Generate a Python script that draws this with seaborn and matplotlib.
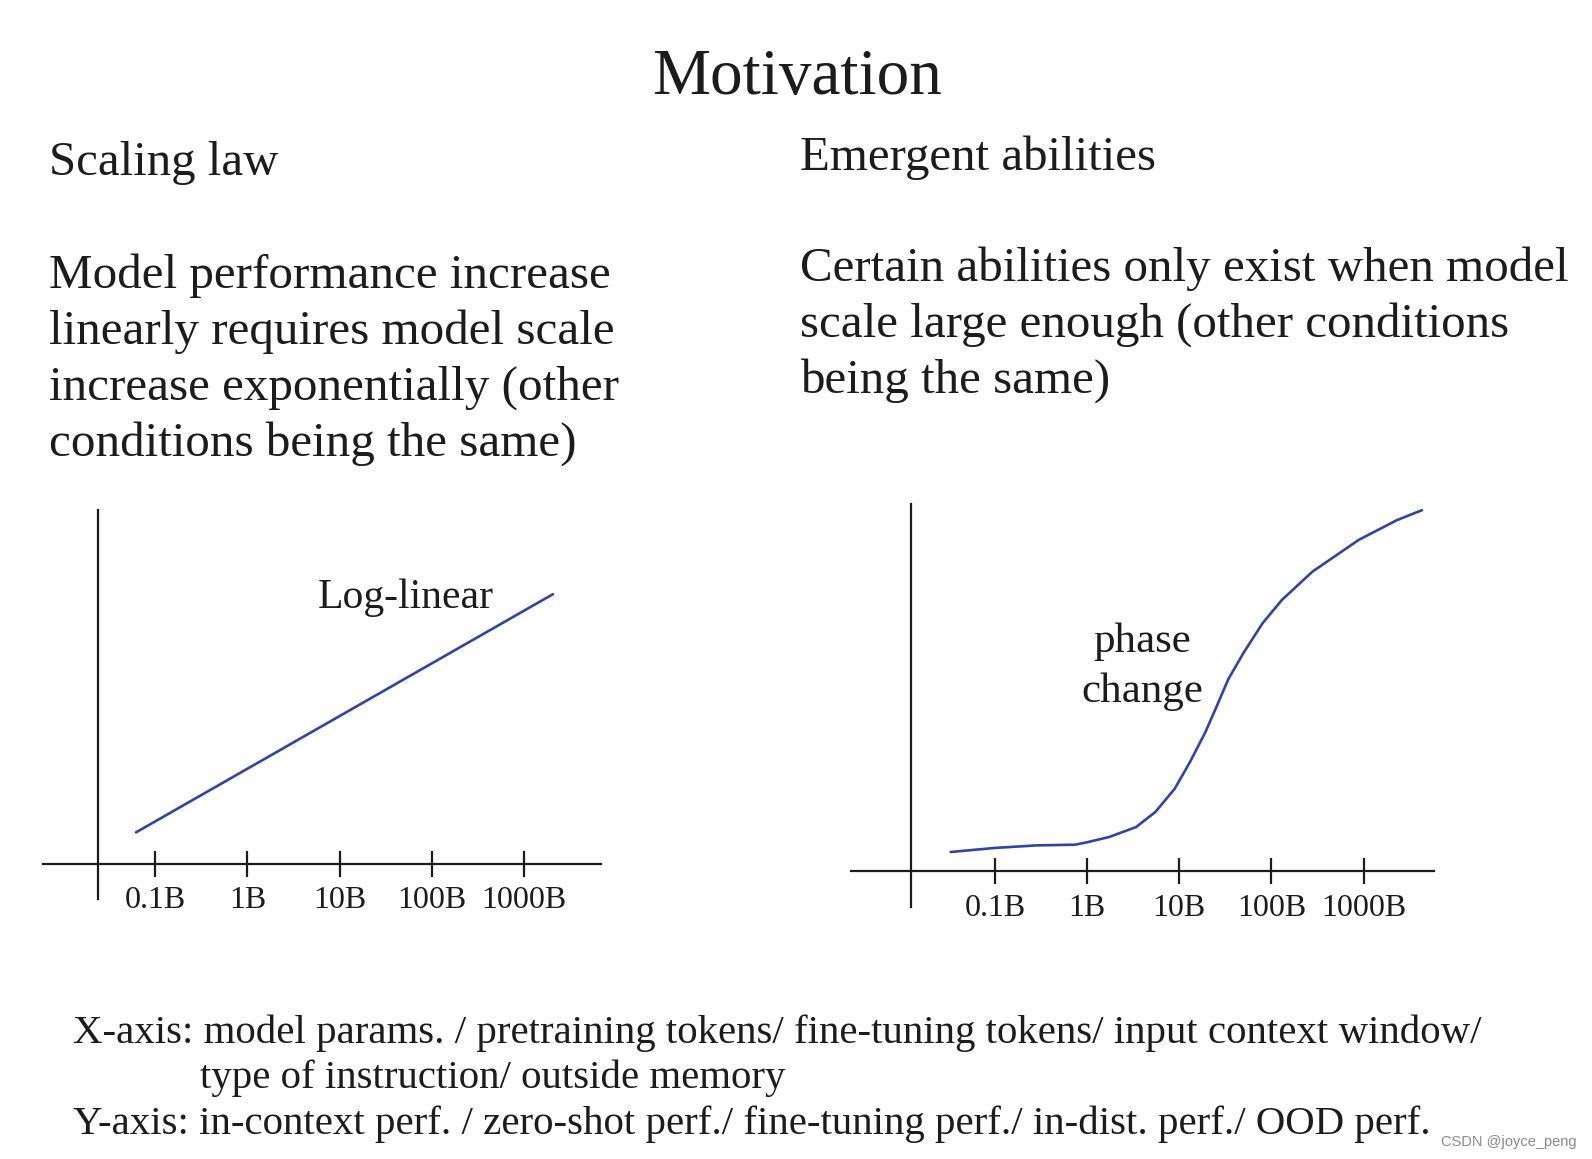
import numpy as np
import pandas as pd
import matplotlib
matplotlib.use("Agg")
import matplotlib.pyplot as plt
from matplotlib.ticker import NullLocator, FixedLocator, FixedFormatter
import seaborn as sns

# ---------------- data ----------------
tick_values = [0.1, 1, 10, 100, 1000]          # model scale, billions
tick_labels = ["0.1B", "1B", "10B", "100B", "1000B"]

loglinear_scale = [0.062, 2050]                 # billions
loglinear_perf = [0.088, 0.761]

emergent_scale = [0.033, 0.098, 0.28, 0.74, 0.98, 1.74, 3.4, 5.5, 8.9, 13.0,
                  19.1, 25.5, 34.0, 49.8, 80.4, 130, 279, 883, 2300, 4300]
emergent_perf = [0.052, 0.063, 0.070, 0.072, 0.078, 0.093, 0.120, 0.161, 0.224, 0.296,
                 0.377, 0.449, 0.522, 0.594, 0.675, 0.738, 0.815, 0.901, 0.955, 0.982]

title = "Motivation"
left_header = "Scaling law"
right_header = "Emergent abilities"
left_para = ["Model performance increase",
             "linearly requires model scale",
             "increase exponentially (other",
             "conditions being the same)"]
right_para = ["Certain abilities only exist when model",
              "scale large enough (other conditions",
              "being the same)"]
bottom_lines = ["X-axis: model params. / pretraining tokens/ fine-tuning tokens/ input context window/",
                "type of instruction/ outside memory",
                "Y-axis: in-context perf. / zero-shot perf./ fine-tuning perf./ in-dist. perf./ OOD perf."]
left_note = "Log-linear"
right_note = "phase\nchange"
watermark = "CSDN @joyce_peng"

# ---------------- style ----------------
sns.set_theme(style="white")
SERIF = ["Liberation Serif", "DejaVu Serif"]
plt.rcParams["font.family"] = SERIF

W, H = 1592, 1159
S = W / 1568.0  # reference preview -> full size


def fx(px):
    return px * S / W


def fy(py):
    return 1 - py * S / H


fig = plt.figure(figsize=(W / 100, H / 100), dpi=100)
fig.patch.set_facecolor("white")

INK = "#1c1c1c"
BLUE = "#3144a6"


def make_axes(x0, x1, ytop, ybot):
    ax = fig.add_axes([fx(x0), fy(ybot), fx(x1) - fx(x0), fy(ytop) - fy(ybot)])
    ax.set_facecolor("none")
    return ax


def style_axes(ax, xlo, xhi, yaxis_x, ylo):
    ax.set_xscale("log")
    ax.set_xlim(10 ** xlo, 10 ** xhi)
    ax.set_ylim(ylo, 1.0)
    for s in ("top", "right"):
        ax.spines[s].set_visible(False)
    ax.spines["left"].set_position(("data", 10 ** yaxis_x))
    ax.spines["bottom"].set_position(("data", 0))
    for s in ("left", "bottom"):
        ax.spines[s].set_color(INK)
        ax.spines[s].set_linewidth(1.6)
    ax.set_yticks([])
    ax.xaxis.set_major_locator(FixedLocator(tick_values))
    ax.xaxis.set_major_formatter(FixedFormatter(tick_labels))
    ax.xaxis.set_minor_locator(NullLocator())
    ax.tick_params(axis="x", direction="inout", length=19, width=1.6, color=INK,
                   pad=7, labelsize=23, labelcolor=INK, bottom=True)
    for lab in ax.get_xticklabels():
        lab.set_family(SERIF)
    ax.set_xlabel("")
    ax.set_ylabel("")
    ax.grid(False)


# left panel
axL = make_axes(42, 592, 502, 885)
dfL = pd.DataFrame({"scale": loglinear_scale, "perf": loglinear_perf})
sns.lineplot(data=dfL, x="scale", y="perf", ax=axL, color=BLUE, linewidth=1.9)
style_axes(axL, -2.22, 3.835, -1.615, -0.099)
axL.text(52, 0.75, left_note, ha="center", va="center", fontsize=30, color=INK,
         family=SERIF)

# right panel
axR = make_axes(838, 1412, 496, 893)
dfR = pd.DataFrame({"scale": emergent_scale, "perf": emergent_perf})
sns.lineplot(data=dfR, x="scale", y="perf", ax=axR, color=BLUE, linewidth=1.9)
style_axes(axR, -2.565, 3.76, -1.915, -0.0967)
axR.text(3.94, 0.557, right_note, ha="center", va="center", fontsize=31, color=INK,
         family=SERIF, linespacing=1.4)

# texts
fig.text(fx(785), fy(93), title, ha="center", va="baseline", fontsize=47, color=INK)
fig.text(fx(48), fy(172), left_header, ha="left", va="baseline", fontsize=35.2, color=INK)
fig.text(fx(788), fy(167), right_header, ha="left", va="baseline", fontsize=35.2, color=INK)
for i, line in enumerate(left_para):
    fig.text(fx(48), fy(284 + 55 * i), line, ha="left", va="baseline", fontsize=35.4, color=INK)
for i, line in enumerate(right_para):
    fig.text(fx(788), fy(277 + 55 * i), line, ha="left", va="baseline", fontsize=35.3, color=INK)
bx = [72, 197, 72]
for i, line in enumerate(bottom_lines):
    fig.text(fx(bx[i]), fy(1027 + 45 * i), line, ha="left", va="baseline", fontsize=29.4, color=INK)
fig.text(fx(1553), fy(1129), watermark, ha="right", va="baseline", fontsize=10.5,
         color="#8a8a8a", family=["Liberation Sans", "DejaVu Sans"])

fig.savefig("out.png", dpi=100, facecolor="white")
